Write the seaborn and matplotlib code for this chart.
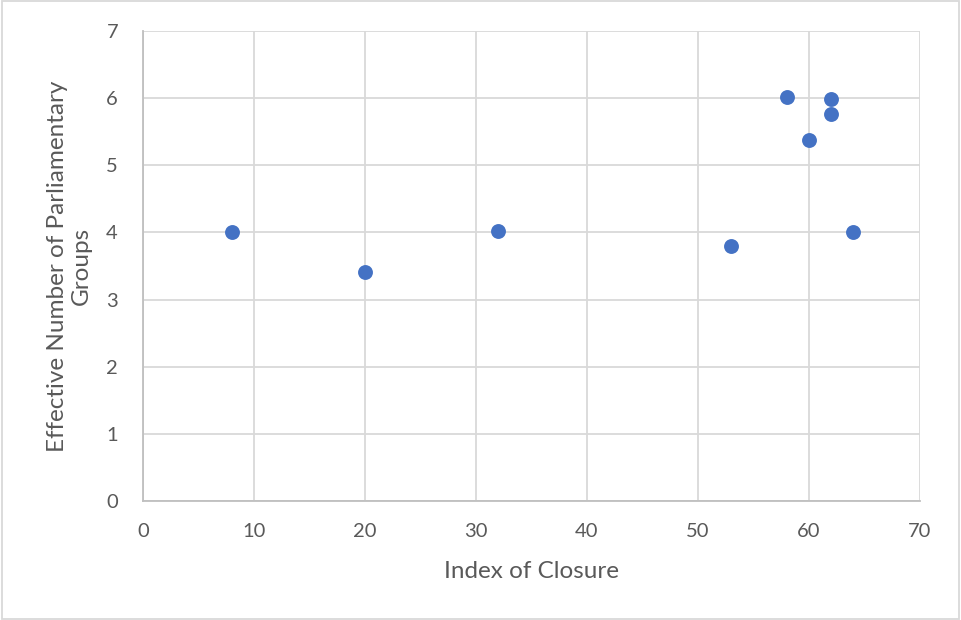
import matplotlib
matplotlib.use("Agg")
import matplotlib.pyplot as plt
import seaborn as sns
import pandas as pd

# Index of closure vs. effective number of parliamentary groups
closure = [8, 20, 32, 53, 58, 60, 62, 62, 64]
eff_groups = [4.00, 3.41, 4.02, 3.80, 6.01, 5.38, 5.99, 5.76, 4.01]

x_ticks = [0, 10, 20, 30, 40, 50, 60, 70]
y_ticks = [0, 1, 2, 3, 4, 5, 6, 7]

df = pd.DataFrame({"closure": closure, "groups": eff_groups})

sns.set_theme(style="white")
plt.rcParams["font.family"] = ["Lato", "DejaVu Sans"]

fig = plt.figure(figsize=(9.61, 6.2), dpi=100)
ax = fig.add_axes([143 / 961, 1 - 501 / 620, (920 - 143) / 961, (501 - 31) / 620])

sns.scatterplot(data=df, x="closure", y="groups", ax=ax, s=115,
                color="#4472C4", edgecolor="#4472C4", linewidth=0, zorder=3)

ax.set_xlim(0, 70)
ax.set_ylim(0, 7)
ax.set_xticks(x_ticks)
ax.set_yticks(y_ticks)
ax.grid(True, color="#D9D9D9", linewidth=1.3)
ax.set_axisbelow(True)
for side in ["top", "right"]:
    ax.spines[side].set_visible(False)
for side in ["left", "bottom"]:
    ax.spines[side].set_color("#BFBFBF")
    ax.spines[side].set_linewidth(1.3)

ax.tick_params(axis="both", length=0, labelsize=14.5, labelcolor="#595959")
ax.tick_params(axis="x", pad=16)
ax.tick_params(axis="y", pad=18)

ax.set_xlabel("Index of Closure", fontsize=17.5, color="#595959", labelpad=15)
ax.set_ylabel("Effective Number of Parliamentary\nGroups", fontsize=17.5,
              color="#595959", labelpad=10, linespacing=1.2)

# light frame around the whole figure
fig.patches.append(plt.Rectangle((0.002, 0.002), 0.996, 0.996, transform=fig.transFigure,
                                 fill=False, edgecolor="#D9D9D9", linewidth=1.3))

fig.savefig("out.png", dpi=100)
